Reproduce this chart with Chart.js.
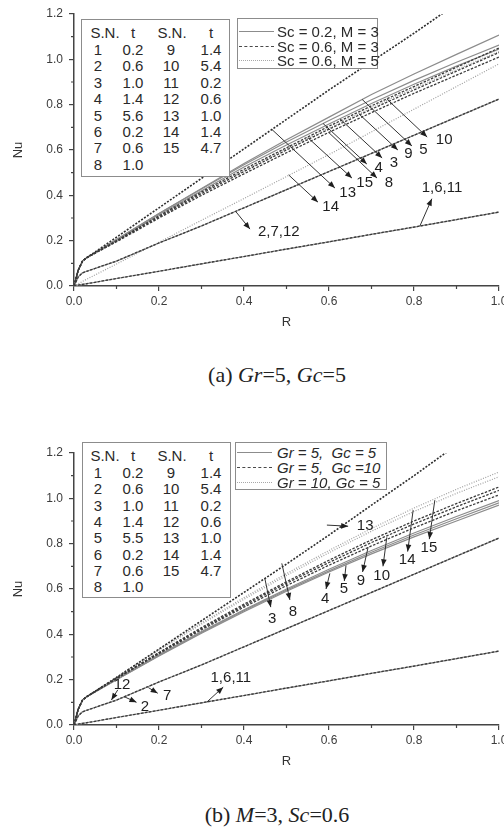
<!DOCTYPE html>
<html>
<head>
<meta charset="utf-8">
<script src="https://cdn.jsdelivr.net/npm/chart.js@4.4.1/dist/chart.umd.min.js"></script>
<style>
body { margin: 0; background: #fff; width: 504px; height: 830px; position: relative; overflow: hidden; font-family: "Liberation Sans", Arial, sans-serif; }
.cv { position: absolute; left: 0; }
.box { position: absolute; border: 1.5px solid #8c8c8c; box-sizing: border-box; background: #fff; }
.cell { position: absolute; transform: translate(-50%, -50%); font-size: 15px; color: #2a2a2a; white-space: nowrap; }
.leg { position: absolute; font-size: 15px; color: #2a2a2a; white-space: nowrap; transform: translateY(-50%); }
.sample { position: absolute; height: 0; width: 35px; }
.cap { position: absolute; font-family: "Liberation Serif", "Times New Roman", serif; font-size: 22px; color: #222; transform: translate(-50%, -50%); white-space: nowrap; }
</style>
</head>
<body>
<canvas id="chartA" class="cv" width="504" height="345" style="top:0"></canvas>
<canvas id="chartB" class="cv" width="504" height="345" style="top:439px"></canvas>
<div id="overlay"></div>
<div class="cap" style="left:277px;top:375px">(a) <i>Gr</i>=5, <i>Gc</i>=5</div>
<div class="cap" style="left:277px;top:815px">(b) <i>M</i>=3, <i>Sc</i>=0.6</div>
<script>
// Nu against R, two panels, 15 curves each

// --- Data ---
const R = [0, 0.01, 0.02, 0.03, 0.1, 0.2, 0.3, 0.4, 0.5, 0.6, 0.7, 0.8, 0.9, 1.0];

// table of runs (S.N. -> t)
const snList = [1, 2, 3, 4, 5, 6, 7, 8, 9, 10, 11, 12, 13, 14, 15];
const tListA = [0.2, 0.6, 1.0, 1.4, 5.6, 0.2, 0.6, 1.0, 1.4, 5.4, 0.2, 0.6, 1.0, 1.4, 4.7];
const tListB = [0.2, 0.6, 1.0, 1.4, 5.5, 0.2, 0.6, 1.0, 1.4, 5.4, 0.2, 0.6, 1.0, 1.4, 4.7];

const legendA = ['Sc = 0.2, M = 3', 'Sc = 0.6, M = 3', 'Sc = 0.6, M = 5'];
const legendB = ['Gr = 5,  Gc = 5', 'Gr = 5,  Gc =10', 'Gr = 10, Gc = 5'];

// shared low curves (same in both panels)
const nuT02 = [0, 0.004, 0.007, 0.01, 0.033, 0.065, 0.098, 0.13, 0.163, 0.195, 0.228, 0.26, 0.293, 0.326];
const nuT06 = [0, 0.04, 0.058, 0.065, 0.11, 0.19, 0.265, 0.345, 0.425, 0.505, 0.585, 0.665, 0.745, 0.825];

// panel (a)
const a3  = [0, 0.07, 0.11, 0.125, 0.2, 0.315, 0.42, 0.525, 0.622, 0.715, 0.805, 0.89, 0.97, 1.045];
const a4  = [0, 0.07, 0.11, 0.125, 0.205, 0.32, 0.428, 0.535, 0.635, 0.73, 0.822, 0.907, 0.987, 1.063];
const a5  = [0, 0.07, 0.11, 0.125, 0.205, 0.32, 0.43, 0.54, 0.645, 0.745, 0.845, 0.935, 1.022, 1.107];
const a8  = [0, 0.07, 0.11, 0.125, 0.195, 0.3, 0.4, 0.495, 0.588, 0.678, 0.765, 0.85, 0.93, 1.01];
const a9  = [0, 0.07, 0.11, 0.125, 0.198, 0.305, 0.408, 0.505, 0.6, 0.692, 0.78, 0.865, 0.948, 1.03];
const a10 = [0, 0.07, 0.11, 0.125, 0.2, 0.31, 0.415, 0.515, 0.61, 0.705, 0.795, 0.88, 0.965, 1.05];
const a13 = [0, 0.07, 0.11, 0.125, 0.215, 0.345, 0.475, 0.605, 0.735, 0.865, 0.99, 1.115, 1.245, 1.37];
const a14 = [0, 0.01, 0.02, 0.03, 0.097, 0.193, 0.29, 0.386, 0.483, 0.58, 0.68, 0.78, 0.88, 0.98];
const a15 = [0, 0.07, 0.11, 0.125, 0.2, 0.31, 0.412, 0.51, 0.605, 0.697, 0.787, 0.873, 0.955, 1.035];

// panel (b)
const b3  = [0, 0.07, 0.11, 0.125, 0.2, 0.305, 0.405, 0.5, 0.59, 0.675, 0.755, 0.83, 0.9, 0.97];
const b4  = [0, 0.07, 0.11, 0.125, 0.2, 0.307, 0.408, 0.504, 0.595, 0.68, 0.762, 0.838, 0.91, 0.98];
const b5  = [0, 0.07, 0.11, 0.125, 0.202, 0.31, 0.412, 0.508, 0.6, 0.687, 0.77, 0.847, 0.92, 0.99];
const b8  = [0, 0.07, 0.11, 0.125, 0.205, 0.315, 0.42, 0.52, 0.615, 0.705, 0.79, 0.87, 0.945, 1.015];
const b9  = [0, 0.07, 0.11, 0.125, 0.205, 0.318, 0.425, 0.527, 0.625, 0.717, 0.805, 0.887, 0.963, 1.035];
const b10 = [0, 0.07, 0.11, 0.125, 0.207, 0.32, 0.43, 0.533, 0.632, 0.727, 0.817, 0.9, 0.977, 1.05];
const b13 = [0, 0.07, 0.11, 0.125, 0.21, 0.335, 0.46, 0.585, 0.71, 0.838, 0.97, 1.1, 1.235, 1.37];
const b14 = [0, 0.07, 0.11, 0.125, 0.21, 0.33, 0.445, 0.555, 0.66, 0.76, 0.855, 0.942, 1.022, 1.095];
const b15 = [0, 0.07, 0.11, 0.125, 0.21, 0.333, 0.45, 0.562, 0.668, 0.77, 0.867, 0.957, 1.04, 1.116];

const curvesA = [nuT02, nuT06, a3, a4, a5, nuT02, nuT06, a8, a9, a10, nuT02, nuT06, a13, a14, a15];
const curvesB = [nuT02, nuT06, b3, b4, b5, nuT02, nuT06, b8, b9, b10, nuT02, nuT06, b13, b14, b15];

const minorR = [0.1, 0.3, 0.5, 0.7, 0.9];
const minorNu = [0.1, 0.3, 0.5, 0.7, 0.9, 1.1];

// curve labels: text centre, arrow from curve to near label (data units)
const notesA = [
  { text: '10', at: [0.871, 0.644], from: [0.736, 0.825], to: [0.831, 0.657] },
  { text: '5', at: [0.822, 0.6], from: [0.678, 0.823], to: [0.795, 0.618] },
  { text: '9', at: [0.787, 0.582], from: [0.67, 0.76], to: [0.762, 0.6] },
  { text: '3', at: [0.753, 0.543], from: [0.626, 0.737], to: [0.725, 0.565] },
  { text: '4', at: [0.717, 0.52], from: [0.586, 0.717], to: [0.689, 0.538] },
  { text: '8', at: [0.741, 0.454], from: [0.6, 0.676], to: [0.713, 0.476] },
  { text: '15', at: [0.684, 0.454], from: [0.55, 0.655], to: [0.654, 0.476] },
  { text: '13', at: [0.644, 0.41], from: [0.466, 0.69], to: [0.614, 0.432] },
  { text: '14', at: [0.604, 0.348], from: [0.505, 0.49], to: [0.574, 0.37] },
  { text: '2,7,12', at: [0.482, 0.238], from: [0.38, 0.33], to: [0.414, 0.251] },
  { text: '1,6,11', at: [0.866, 0.432], from: [0.814, 0.265], to: [0.842, 0.385] }
];
const notesB = [
  { text: '12', at: [0.113, 0.177], from: [0.103, 0.155], to: [0.088, 0.11] },
  { text: '7', at: [0.219, 0.128], from: [0.175, 0.165], to: [0.197, 0.14] },
  { text: '2', at: [0.167, 0.08], from: [0.118, 0.125], to: [0.147, 0.1] },
  { text: '1,6,11', at: [0.369, 0.208], from: [0.313, 0.102], to: [0.351, 0.167] },
  { text: '13', at: [0.685, 0.877], from: [0.595, 0.882], to: [0.645, 0.877] },
  { text: '3', at: [0.466, 0.469], from: [0.449, 0.647], to: [0.463, 0.52] },
  { text: '8', at: [0.515, 0.5], from: [0.489, 0.713], to: [0.508, 0.552] },
  { text: '4', at: [0.591, 0.556], from: [0.602, 0.669], to: [0.593, 0.6] },
  { text: '5', at: [0.635, 0.6], from: [0.64, 0.704], to: [0.636, 0.635] },
  { text: '9', at: [0.675, 0.636], from: [0.692, 0.784], to: [0.679, 0.675] },
  { text: '10', at: [0.724, 0.658], from: [0.736, 0.828], to: [0.727, 0.7] },
  { text: '14', at: [0.784, 0.729], from: [0.798, 0.948], to: [0.785, 0.765] },
  { text: '15', at: [0.835, 0.782], from: [0.849, 0.992], to: [0.836, 0.82] }
];

// --- Styles ---
const lineStyles = [
  { borderColor: '#8c8c8c', borderWidth: 1.2, borderDash: [], order: 2 },         // solid
  { borderColor: '#3a3a3a', borderWidth: 1.3, borderDash: [2.5, 1.5], order: 0 }, // dashed (drawn on top)
  { borderColor: '#a0a0a0', borderWidth: 1.2, borderDash: [1, 1.5], order: 1 }    // dotted
];
const steepStyle = { borderColor: '#2e2e2e', borderWidth: 1.6, borderDash: [2, 1.5], order: 0 };

function buildDatasets(curves) {
  return curves.map((vals, i) => {
    const st = snList[i] === 13 ? steepStyle : lineStyles[Math.floor(i / 5)];
    return {
      label: 'S.N. ' + snList[i],
      data: R.map((r, k) => ({ x: r, y: vals[k] })),
      borderColor: st.borderColor,
      borderWidth: st.borderWidth,
      borderDash: st.borderDash,
      order: st.order,
      pointRadius: 0,
      tension: 0,
      fill: false
    };
  });
}

function notesPlugin(notes) {
  return {
    id: 'notes',
    afterDatasetsDraw(chart) {
      const { ctx, chartArea: a } = chart;
      const xs = chart.scales.x, ys = chart.scales.y;
      ctx.save();
      // minor ticks
      ctx.strokeStyle = '#444';
      ctx.lineWidth = 1.2;
      ctx.beginPath();
      minorR.forEach(v => {
        const px = xs.getPixelForValue(v);
        ctx.moveTo(px, a.bottom); ctx.lineTo(px, a.bottom + 3);
      });
      minorNu.forEach(v => {
        const py = ys.getPixelForValue(v);
        ctx.moveTo(a.left - 3, py); ctx.lineTo(a.left, py);
      });
      ctx.stroke();
      // arrows and labels
      ctx.strokeStyle = '#333';
      ctx.fillStyle = '#1e1e1e';
      ctx.lineWidth = 1;
      notes.forEach(n => {
        const x0 = xs.getPixelForValue(n.from[0]), y0 = ys.getPixelForValue(n.from[1]);
        const x1 = xs.getPixelForValue(n.to[0]), y1 = ys.getPixelForValue(n.to[1]);
        ctx.beginPath();
        ctx.moveTo(x0, y0); ctx.lineTo(x1, y1);
        ctx.stroke();
        const ang = Math.atan2(y1 - y0, x1 - x0);
        ctx.beginPath();
        ctx.moveTo(x1, y1);
        ctx.lineTo(x1 - 7 * Math.cos(ang) + 2.8 * Math.sin(ang), y1 - 7 * Math.sin(ang) - 2.8 * Math.cos(ang));
        ctx.lineTo(x1 - 7 * Math.cos(ang) - 2.8 * Math.sin(ang), y1 - 7 * Math.sin(ang) + 2.8 * Math.cos(ang));
        ctx.closePath();
        ctx.fill();
        ctx.font = '15px "Liberation Sans", Arial, sans-serif';
        ctx.textAlign = 'center';
        ctx.textBaseline = 'middle';
        ctx.fillText(n.text, xs.getPixelForValue(n.at[0]), ys.getPixelForValue(n.at[1]));
      });
      ctx.restore();
    }
  };
}

const tickFont = { family: '"Liberation Sans", Arial, sans-serif', size: 12 };
const titleFont = { family: '"Liberation Sans", Arial, sans-serif', size: 13 };

function makeChart(canvasId, curves, notes) {
  return new Chart(document.getElementById(canvasId), {
    type: 'line',
    data: { datasets: buildDatasets(curves) },
    options: {
      responsive: false,
      animation: false,
      events: [],
      layout: { padding: { top: 14, right: 5, left: 0, bottom: 0 } },
      plugins: { legend: { display: false }, tooltip: { enabled: false } },
      scales: {
        x: {
          type: 'linear', min: 0, max: 1,
          ticks: { stepSize: 0.2, color: '#3c3c3c', font: tickFont, padding: 3, maxRotation: 0,
            callback: v => v.toFixed(1) },
          grid: { drawOnChartArea: false, tickLength: 5, tickColor: '#444', lineWidth: 1.2 },
          border: { color: '#444', width: 1.5 },
          title: { display: true, text: 'R', color: '#333', font: titleFont, padding: { top: 0, bottom: 15 } },
          afterFit: s => { s.height = 59; s.paddingLeft = 0; s.paddingRight = 0; }
        },
        y: {
          type: 'linear', min: 0, max: 1.2,
          ticks: { stepSize: 0.2, color: '#3c3c3c', font: tickFont, padding: 6,
            callback: v => v.toFixed(1) },
          grid: { drawOnChartArea: false, tickLength: 5, tickColor: '#444', lineWidth: 1.2 },
          border: { color: '#444', width: 1.5 },
          title: { display: true, text: 'Nu', color: '#333', font: titleFont, padding: { top: 11, bottom: 0 } },
          afterFit: s => { s.width = 74; }
        }
      }
    },
    plugins: [notesPlugin(notes)]
  });
}

makeChart('chartA', curvesA, notesA);
makeChart('chartB', curvesB, notesB);

// --- Overlay: S.N. tables and legends ---
const overlay = document.getElementById('overlay');

function addEl(cls, css, html) {
  const d = document.createElement('div');
  d.className = cls;
  d.style.cssText = css;
  d.innerHTML = html;
  overlay.appendChild(d);
  return d;
}

function buildTable(left, top, height, headY, row1Y, pitch, tList) {
  addEl('box', `left:${left}px;top:${top}px;width:149px;height:${height}px;`, '');
  const hdrX = [105, 133, 172, 211];
  ['S.N.', 't', 'S.N.', 't'].forEach((h, i) => addEl('cell', `left:${hdrX[i]}px;top:${headY}px;`, h));
  const colX = [98, 133, 171, 211];
  for (let r = 0; r < 8; r++) {
    const y = row1Y + r * pitch;
    addEl('cell', `left:${colX[0]}px;top:${y}px;`, snList[r]);
    addEl('cell', `left:${colX[1]}px;top:${y}px;`, tList[r].toFixed(1));
    if (r + 8 < snList.length) {
      addEl('cell', `left:${colX[2]}px;top:${y}px;`, snList[r + 8]);
      addEl('cell', `left:${colX[3]}px;top:${y}px;`, tList[r + 8].toFixed(1));
    }
  }
}

function buildLegend(left, top, width, height, rowsY, labels, italic) {
  addEl('box', `left:${left}px;top:${top}px;width:${width}px;height:${height}px;`, '');
  const sampleCss = [
    'border-top:1.3px solid #8c8c8c;',
    'border-top:1.3px dashed #4a4a4a;',
    'border-top:1.3px dotted #a8a8a8;'
  ];
  labels.forEach((txt, i) => {
    addEl('sample', `left:${left + 2}px;top:${rowsY[i]}px;${sampleCss[i]}`, '');
    addEl('leg', `left:277px;top:${rowsY[i]}px;${italic ? 'font-style:italic;' : ''}`, txt.replace(/ /g, '&nbsp;'));
  });
}

buildTable(81, 19, 158, 32, 49, 16.4, tListA);
buildTable(82, 442, 156, 455, 472, 16.3, tListB);
buildLegend(237, 18, 141, 51, [31, 45.5, 60], legendA, false);
buildLegend(235, 442, 152, 48, [452, 467, 482], legendB, true);
</script>
</body>
</html>
